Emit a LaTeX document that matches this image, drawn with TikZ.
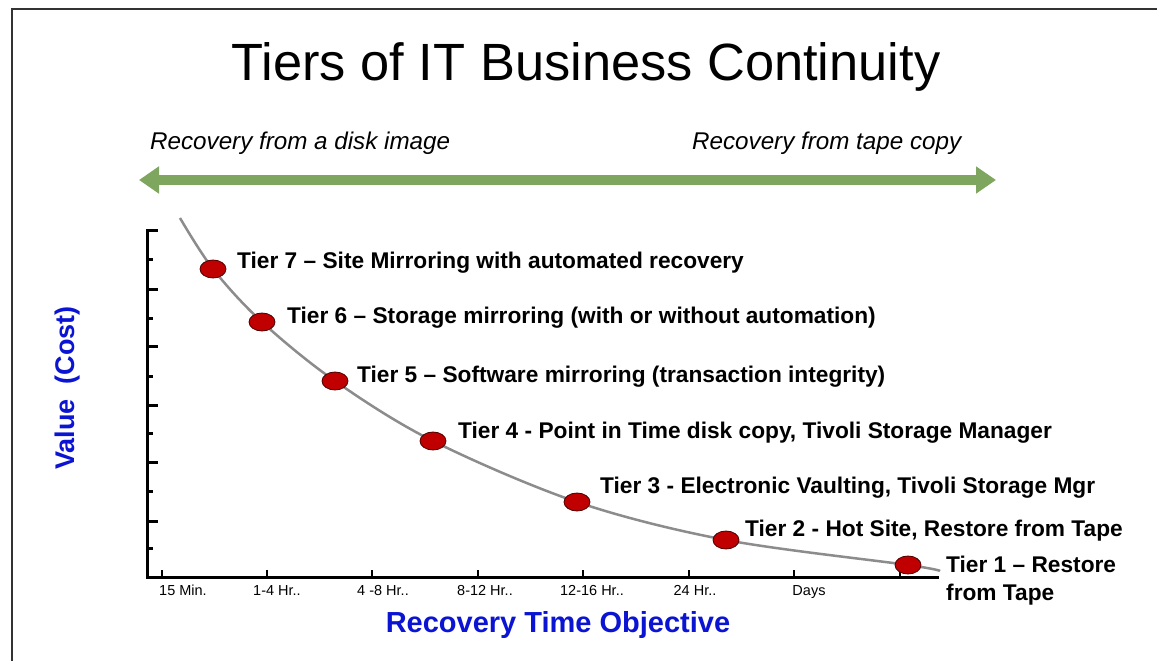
\documentclass[tikz,border=0pt]{standalone}
\usepackage{fontspec}
\setmainfont{Liberation Sans}
\usetikzlibrary{arrows.meta,shapes.geometric}
\definecolor{arrowgreen}{HTML}{7FA65F}
\definecolor{dotred}{HTML}{C00000}
\definecolor{axisblue}{HTML}{0A14D2}
\definecolor{curvegray}{HTML}{8C8C8C}
\tikzset{
  tierdot/.style={ellipse, draw=black!70!red, line width=0.8pt, fill=dotred, minimum width=26pt, minimum height=18pt, inner sep=0pt},
  tierlabel/.style={anchor=west, inner sep=0pt, font=\fontsize{22.7}{28}\selectfont\bfseries, align=left},
  ticklabel/.style={inner sep=0pt, anchor=base, font=\fontsize{14.5}{16}\selectfont},
  toplabel/.style={inner sep=0pt, font=\fontsize{24.2}{28}\selectfont\itshape},
  axistitle/.style={inner sep=0pt, text=axisblue, font=\fontsize{29}{33}\selectfont\bfseries},
}
\begin{document}
\begin{tikzpicture}[x=1pt,y=-1pt]
\useasboundingbox (0,0) rectangle (1157,661);
\fill[white] (0,0) rectangle (1157,661);
% frame
\draw[line width=1.5pt, black!80] (12,661) -- (12,9) -- (1157,9);
% title
\node[inner sep=0pt, font=\fontsize{52.4}{60}\selectfont] (title) at (586,67) {Tiers of IT Business Continuity};
% top labels
\node[toplabel, anchor=west] (disk) at (150,143) {Recovery from a disk image};
\node[toplabel, anchor=west] (tape) at (692,143) {Recovery from tape copy};
% green arrow
\coordinate (gl) at (139,180);
\coordinate (gr) at (996,180);
\draw[arrowgreen, line width=10pt, {Triangle[width=26pt,length=20pt]}-{Triangle[width=26pt,length=20pt]}] (gl) -- (gr);
% axes
\coordinate (yt) at (147,230);
\coordinate (origin) at (147,577);
\coordinate (xe) at (937,577);
\draw[line width=3pt, line cap=rect] (yt) -- (origin) -- (xe);
\foreach \y in {230,289,346,405,462,521} \draw[line width=3pt] (147,\y) -- (158,\y);
\foreach \y in {259,318,376,433,491,548} \draw[line width=3pt] (147,\y) -- (153,\y);
\foreach \x in {162,267,372,478,583,689,794,900} \draw[line width=2.5pt] (\x,577) -- (\x,570);
% tick labels
\node[ticklabel] (l1) at (183,595) {15 Min.};
\node[ticklabel] (l2) at (277,595) {1-4 Hr..};
\node[ticklabel] (l3) at (383,595) {4 -8 Hr..};
\node[ticklabel] (l4) at (485,595) {8-12 Hr..};
\node[ticklabel] (l5) at (592,595) {12-16 Hr..};
\node[ticklabel] (l6) at (695,595) {24 Hr..};
\node[ticklabel] (l7) at (809,595) {Days};
% axis titles
\node[axistitle] (rto) at (558,625) {Recovery Time Objective};
\node[axistitle, rotate=90, font=\fontsize{27}{31}\selectfont\bfseries] (val) at (68,388) {Value\ \ (Cost)};
% curve
\draw[curvegray, line width=2.5pt] plot[smooth, tension=0.55] coordinates {(180,218) (213,269) (262,322) (335,381) (433,441) (577,502) (726,540) (908,565) (940,571)};
% dots
\node[tierdot] (t7) at (213,269) {};
\node[tierdot] (t6) at (262,322) {};
\node[tierdot] (t5) at (335,381) {};
\node[tierdot] (t4) at (433,441) {};
\node[tierdot] (t3) at (577,502) {};
\node[tierdot] (t2) at (726,540) {};
\node[tierdot] (t1) at (908,565) {};
% labels
\node[tierlabel] (n7) at (237,263) {Tier 7 – Site Mirroring with automated recovery};
\node[tierlabel] (n6) at (287,318) {Tier 6 – Storage mirroring (with or without automation)};
\node[tierlabel] (n5) at (357,377) {Tier 5 – Software mirroring (transaction integrity)};
\node[tierlabel] (n4) at (458,433) {Tier 4 - Point in Time disk copy, Tivoli Storage Manager};
\node[tierlabel] (n3) at (600,488) {Tier 3 - Electronic Vaulting, Tivoli Storage Mgr};
\node[tierlabel] (n2) at (745,531) {Tier 2 - Hot Site, Restore from Tape};
\node[tierlabel, anchor=north west] (n1) at (946,556) {Tier 1 – Restore\\from Tape};
\end{tikzpicture}
\end{document}
